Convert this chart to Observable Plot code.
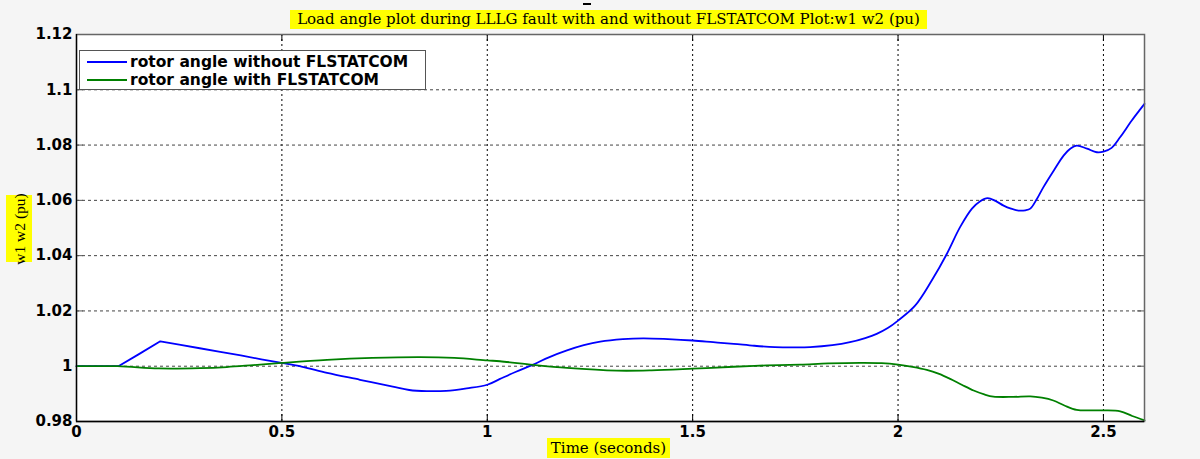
<!DOCTYPE html>
<html>
<head>
<meta charset="utf-8">
<script src="https://cdn.jsdelivr.net/npm/d3@7"></script>
<script src="https://cdn.jsdelivr.net/npm/@observablehq/plot@0.6"></script>
<style>
  html, body { margin: 0; padding: 0; background: #f5f5f5; }
  #wrap { position: relative; width: 1200px; height: 459px; background: #f5f5f5; overflow: hidden; }
  #chart { position: absolute; left: 0; top: 0; }
  .ylw { position: absolute; background: #ffff00; color: #000; font-family: "DejaVu Serif", serif; font-size: 15px; line-height: 19px; white-space: nowrap; }
  #title { left: 290px; top: 10px; width: 637px; height: 19px; text-align: center; }
  #xlabel { left: 547px; top: 438px; width: 123px; height: 20px; text-align: center; line-height: 20px; }
  #ylabel { left: 6px; top: 195px; width: 26px; height: 67px; font-family: "Liberation Serif", serif; font-size: 15.5px; }
  #ylabel span { position: absolute; left: 50%; top: 50%; transform: translate(-50%, -50%) rotate(-90deg); line-height: 19px; }
  #dash { position: absolute; left: 583px; top: 3px; width: 8px; height: 2px; background: #000; }
  #legend { position: absolute; left: 79px; top: 50px; width: 347px; height: 40px; box-sizing: border-box; border: 1px solid #555; background: #fff; font-family: "DejaVu Sans", sans-serif; font-weight: bold; font-size: 15.5px; }
  .item { position: absolute; left: 0; height: 18px; }
  .item .sw { position: absolute; left: 7px; width: 40px; height: 2px; top: 8px; }
  .item .lb { position: absolute; left: 50px; top: 0; line-height: 18px; white-space: nowrap; }
</style>
</head>
<body>
<div id="wrap">
  <div id="chart"></div>
  <div id="dash"></div>
  <div id="title" class="ylw">Load angle plot during LLLG fault with and without FLSTATCOM Plot:w1 w2 (pu)</div>
  <div id="ylabel" class="ylw"><span>w1 w2 (pu)</span></div>
  <div id="xlabel" class="ylw">Time (seconds)</div>
  <div id="legend"></div>
</div>
<script>
const seriesNames = ["rotor angle without FLSTATCOM", "rotor angle with FLSTATCOM"];
const seriesColors = ["#0000ff", "#008000"];

const xTicks = [0, 0.5, 1, 1.5, 2, 2.5];
const xTickLabels = ["0", "0.5", "1", "1.5", "2", "2.5"];
const yTicks = [0.98, 1.0, 1.02, 1.04, 1.06, 1.08, 1.1, 1.12];
const yTickLabels = ["0.98", "1", "1.02", "1.04", "1.06", "1.08", "1.1", "1.12"];

const timeWithout = [0,0.05,0.102,0.15,0.204,0.25,0.30,0.35,0.40,0.45,0.503,0.55,0.61,0.69,0.77,0.81,0.853,0.90,0.95,1.0,1.031,1.07,1.112,1.15,1.194,1.235,1.275,1.33,1.38,1.44,1.5,1.55,1.6,1.65,1.7,1.75,1.786,1.84,1.883,1.92,1.948,1.975,2.0,2.042,2.082,2.119,2.151,2.18,2.2,2.218,2.237,2.257,2.275,2.293,2.31,2.322,2.338,2.354,2.38,2.403,2.42,2.435,2.46,2.484,2.50,2.52,2.541,2.569,2.59,2.6];
const valueWithout = [1.0,1.0,1.0,1.0042,1.009,1.0078,1.0065,1.0052,1.0039,1.0025,1.0011,0.9998,0.9976,0.9951,0.9926,0.9914,0.991,0.9911,0.992,0.9933,0.9954,0.998,1.0006,1.0032,1.0057,1.0076,1.0089,1.0098,1.0101,1.0098,1.0093,1.0087,1.0081,1.0074,1.0069,1.0068,1.0069,1.0076,1.0087,1.0102,1.0117,1.0138,1.0165,1.022,1.031,1.0407,1.0503,1.057,1.0597,1.0608,1.0598,1.0581,1.057,1.0563,1.0564,1.057,1.0605,1.0648,1.071,1.0762,1.0788,1.0798,1.0787,1.0774,1.0776,1.079,1.0829,1.0889,1.093,1.0949];

const timeWith = [0,0.1,0.2,0.3,0.366,0.43,0.5,0.61,0.72,0.837,0.92,1.0,1.031,1.112,1.194,1.315,1.4,1.5,1.6,1.68,1.762,1.83,1.908,1.96,2.0,2.035,2.07,2.1,2.127,2.155,2.184,2.21,2.232,2.28,2.322,2.35,2.378,2.405,2.435,2.47,2.5,2.541,2.57,2.6];
const valueWith = [1.0,1.0,0.9992,0.9993,0.9997,1.0004,1.0012,1.0023,1.003,1.0033,1.003,1.0021,1.0018,1.0005,0.9994,0.9984,0.9985,0.9991,0.9998,1.0003,1.0006,1.001,1.0012,1.0011,1.0006,0.9998,0.9987,0.9972,0.9954,0.9933,0.9912,0.9898,0.989,0.9889,0.9891,0.9886,0.9876,0.9858,0.9842,0.984,0.984,0.9837,0.982,0.9804];

const dataWithout = timeWithout.map((t, i) => ({t, v: valueWithout[i]}));
const dataWith = timeWith.map((t, i) => ({t, v: valueWith[i]}));
// the fault-onset part (up to ~0.5 s) has sharp corners; the rest is smooth
const splitIdx = timeWithout.indexOf(0.503);
const withoutSharp = dataWithout.slice(0, splitIdx + 1);
const withoutSmooth = dataWithout.slice(splitIdx - 1);

const W = 1200, H = 459, mL = 76, mR = 56, mT = 34, mB = 38;
const innerW = W - mL - mR, innerH = H - mT - mB, tk = 7;
const xDom = [0, 2.6], yDom = [0.98, 1.12];

const chart = Plot.plot({
  width: W, height: H,
  marginLeft: mL, marginRight: mR, marginTop: mT, marginBottom: mB,
  style: {background: "transparent", fontFamily: "DejaVu Sans, sans-serif", fontSize: "15px", fontWeight: "bold", color: "#000"},
  x: {domain: xDom, label: null},
  y: {domain: yDom, label: null},
  marks: [
    Plot.frame({fill: "#ffffff", stroke: null}),
    Plot.ruleX(xTicks.slice(1), {y1: yDom[1], y2: yDom[0], stroke: "#000", strokeDasharray: "2,3", strokeWidth: 1}),
    Plot.ruleY(yTicks.slice(1, -1), {x1: xDom[0], x2: xDom[1], stroke: "#444", strokeDasharray: "3,3", strokeWidth: 1}),
    Plot.ruleX(xTicks, {y1: yDom[1], y2: yDom[0], insetTop: innerH - tk, stroke: "#000"}),
    Plot.ruleX(xTicks, {y1: yDom[1], y2: yDom[0], insetBottom: innerH - tk, stroke: "#000"}),
    Plot.ruleY(yTicks, {x1: xDom[0], x2: xDom[1], insetRight: innerW - tk, stroke: "#555"}),
    Plot.ruleY(yTicks, {x1: xDom[0], x2: xDom[1], insetLeft: innerW - tk, stroke: "#555"}),
    Plot.line(withoutSharp, {x: "t", y: "v", stroke: seriesColors[0], strokeWidth: 1.8, curve: "linear"}),
    Plot.line(withoutSmooth.slice(1), {x: "t", y: "v", stroke: seriesColors[0], strokeWidth: 1.8, curve: "catmull-rom"}),
    Plot.line(dataWith, {x: "t", y: "v", stroke: seriesColors[1], strokeWidth: 1.8, curve: "catmull-rom"}),
    Plot.frame({stroke: "#666", strokeWidth: 1.5}),
    Plot.ruleX([xDom[0]], {y1: yDom[1], y2: yDom[0], stroke: "#000", strokeWidth: 1.3}),
    Plot.ruleY([yDom[0]], {x1: xDom[0], x2: xDom[1], stroke: "#000", strokeWidth: 1.3}),
    Plot.axisX(xTicks, {tickSize: 0, tickPadding: 5, tickFormat: (d, i) => xTickLabels[i], fill: "#000"}),
    Plot.axisY(yTicks, {tickSize: 0, tickPadding: 4, tickFormat: (d, i) => yTickLabels[i], fill: "#000"})
  ]
});
document.getElementById("chart").appendChild(chart);

const legend = document.getElementById("legend");
seriesNames.forEach((name, i) => {
  const item = document.createElement("div");
  item.className = "item";
  item.style.top = (i === 0 ? 2 : 20) + "px";
  const sw = document.createElement("div");
  sw.className = "sw";
  sw.style.background = seriesColors[i];
  const lb = document.createElement("div");
  lb.className = "lb";
  lb.textContent = name;
  item.appendChild(sw);
  item.appendChild(lb);
  legend.appendChild(item);
});
</script>
</body>
</html>
